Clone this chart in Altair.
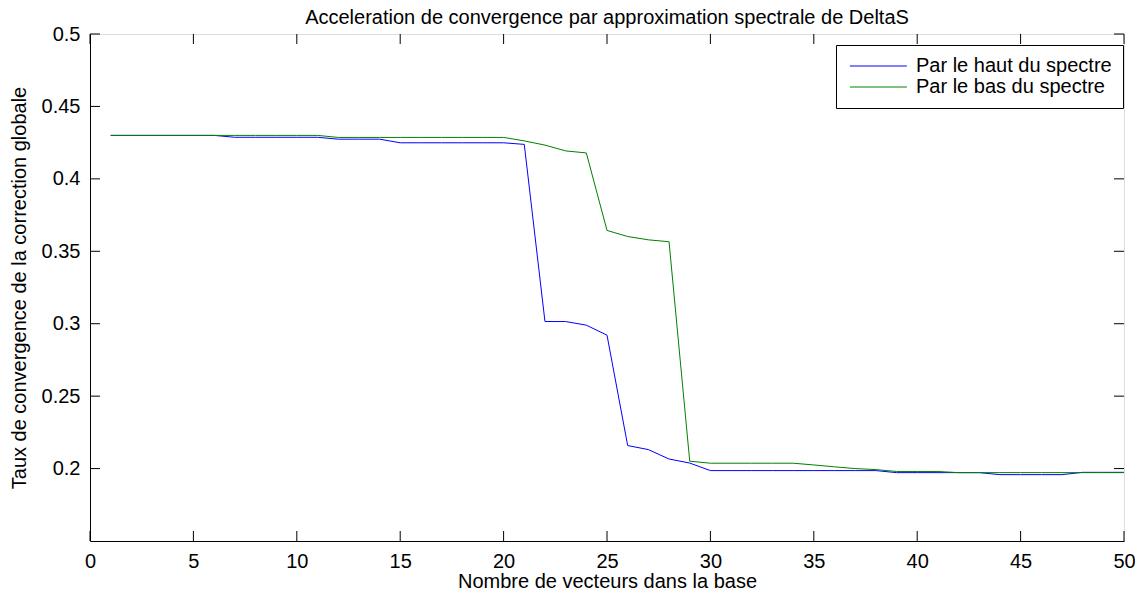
import altair as alt
import pandas as pd

x_vals = list(range(1, 51))
haut = ([0.4300] * 6 + [0.4287] * 5 + [0.4274] * 3 + [0.4249] * 6 +
        [0.4238, 0.3015, 0.3015, 0.2990, 0.2921, 0.2159, 0.2131, 0.2066, 0.2038] +
        [0.1986] * 9 + [0.1972] * 5 + [0.1958] * 4 + [0.1974] * 3)
bas = ([0.4300] * 11 + [0.4286] * 9 +
       [0.4262, 0.4233, 0.4193, 0.4179, 0.3644, 0.3602, 0.3579, 0.3566, 0.2051] +
       [0.2037] * 5 + [0.2025, 0.2012, 0.2000, 0.1993] + [0.1980] * 3 + [0.1972] * 9)
series_names = ["Par le haut du spectre", "Par le bas du spectre"]
series_colors = ["#0000ff", "#008000"]
x_ticks = list(range(0, 51, 5))
y_ticks = [0.2, 0.25, 0.3, 0.35, 0.4, 0.45, 0.5]

W, H = 1034, 507
FONT = "Liberation Sans"
FS = 20

df_h = pd.DataFrame({"x": x_vals, "y": haut, "serie": series_names[0]})
df_b = pd.DataFrame({"x": x_vals, "y": bas, "serie": series_names[1]})

xscale = alt.Scale(domain=[0, 50], nice=False, zero=False)
yscale = alt.Scale(domain=[0.15, 0.5], nice=False, zero=False)
color = alt.Color("serie:N",
                  scale=alt.Scale(domain=series_names, range=series_colors),
                  legend=alt.Legend(title=None, orient="none", legendX=746, legendY=11,
                                    symbolType="M-1,0L7,0", symbolStrokeWidth=1,
                                    symbolSize=203, labelFont=FONT, labelFontSize=FS,
                                    labelColor="black", labelLimit=400,
                                    strokeColor="black", fillColor="white",
                                    padding=11, rowPadding=1,
                                    labelOffset=49, cornerRadius=0))

x_axis = alt.Axis(values=x_ticks, title="Nombre de vecteurs dans la base", grid=False,
                  ticks=False, domain=True, domainColor="black", labelFont=FONT,
                  labelFontSize=FS, labelColor="black", titleFont=FONT, titleFontSize=FS,
                  titleFontWeight="normal", titleColor="black", labelPadding=10,
                  titlePadding=0, labelFlush=False)
y_axis = alt.Axis(values=y_ticks, title="Taux de convergence de la correction globale",
                  grid=False, ticks=False, domain=True, domainColor="black",
                  labelFont=FONT, labelFontSize=FS, labelColor="black", titleFont=FONT,
                  titleFontSize=FS, titleFontWeight="normal", titleColor="black",
                  labelPadding=10, titlePadding=12, format="~g", labelFlush=False)

line_h = alt.Chart(df_h).mark_line(strokeWidth=1, clip=True).encode(
    x=alt.X("x:Q", scale=xscale, axis=x_axis),
    y=alt.Y("y:Q", scale=yscale, axis=y_axis),
    color=color,
)
line_b = alt.Chart(df_b).mark_line(strokeWidth=1, clip=True).encode(
    x=alt.X("x:Q", scale=xscale),
    y=alt.Y("y:Q", scale=yscale),
    color=color,
)

dfx = pd.DataFrame({"t": x_ticks})
dfy = pd.DataFrame({"t": y_ticks})
tick_len = 10
xt_bot = alt.Chart(dfx).mark_rule(color="black", strokeWidth=1).encode(
    x=alt.X("t:Q", scale=xscale), y=alt.value(H), y2=alt.value(H - tick_len))
xt_top = alt.Chart(dfx).mark_rule(color="black", strokeWidth=1).encode(
    x=alt.X("t:Q", scale=xscale), y=alt.value(0), y2=alt.value(tick_len))
yt_left = alt.Chart(dfy).mark_rule(color="black", strokeWidth=1).encode(
    y=alt.Y("t:Q", scale=yscale), x=alt.value(0), x2=alt.value(tick_len))
yt_right = alt.Chart(dfy).mark_rule(color="black", strokeWidth=1).encode(
    y=alt.Y("t:Q", scale=yscale), x=alt.value(W), x2=alt.value(W - tick_len))

chart = alt.layer(line_h, line_b, xt_bot, xt_top, yt_left, yt_right).properties(
    width=W, height=H,
    title=alt.Title("Acceleration de convergence par approximation spectrale de DeltaS",
                    font=FONT, fontSize=FS, fontWeight="normal", color="black",
                    offset=-4, frame="group"),
    autosize=alt.AutoSizeParams(type="none"),
    padding={"left": 82, "top": 26, "right": 11, "bottom": 47},
).configure_view(stroke="black", strokeWidth=1).configure(background="white")

chart.save("out.html", embed_options={"renderer": "svg", "actions": False})
